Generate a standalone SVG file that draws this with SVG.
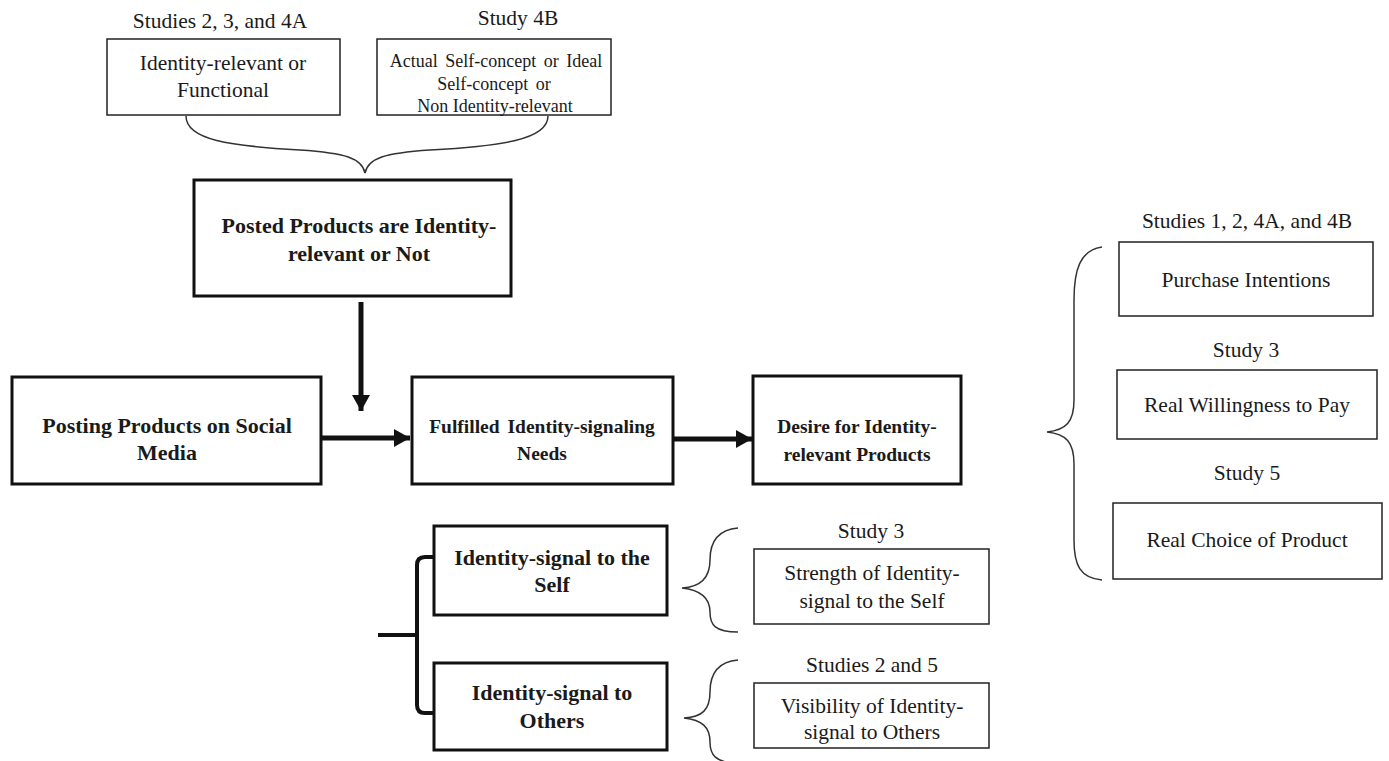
<svg xmlns="http://www.w3.org/2000/svg" width="1389" height="761" viewBox="0 0 1389 761">
<style>
text{font-family:"Liberation Serif","Times New Roman",serif;fill:#1a1a1a;text-anchor:middle}
.t{font-size:21.5px}
.s{font-size:18px}
.b{font-size:22px;font-weight:bold}
.b19{font-size:19.5px;font-weight:bold}
.thin{fill:#fff;stroke:#222;stroke-width:1.5}
.bold{fill:#fff;stroke:#111;stroke-width:3}
.brace{fill:none;stroke:#333;stroke-width:1.5}
.arr{stroke:#111;stroke-width:5;fill:none}
</style>
<defs>
<marker id="ah" markerUnits="userSpaceOnUse" markerWidth="18" markerHeight="20" refX="16" refY="9" orient="auto">
<path d="M0,0 L16,9 L0,18 Z" fill="#111"/>
</marker>
</defs>
<rect width="1389" height="761" fill="#fff"/>

<g id="top-left">
<text class="t" x="220" y="28">Studies 2, 3, and 4A</text>
<rect class="thin" x="107" y="39" width="233" height="76"/>
<text class="t" x="223" y="70">Identity-relevant or</text>
<text class="t" x="223" y="97">Functional</text>
</g>
<g id="top-right">
<text class="t" x="518" y="25">Study 4B</text>
<rect class="thin" x="377" y="39" width="234" height="76"/>
<text class="s" x="496" y="67" word-spacing="3">Actual Self-concept or Ideal</text>
<text class="s" x="494" y="90" word-spacing="3">Self-concept or</text>
<text class="s" x="495" y="112">Non Identity-relevant</text>
</g>
<g id="posted">
<rect class="bold" x="194" y="180" width="317" height="116"/>
<text class="b" x="359" y="233">Posted Products are Identity-</text>
<text class="b" x="359" y="261">relevant or Not</text>
</g>
<g id="posting">
<rect class="bold" x="12" y="377" width="309" height="107"/>
<text class="b" x="167" y="433">Posting Products on Social</text>
<text class="b" x="167" y="460">Media</text>
</g>
<g id="fulfilled">
<rect class="bold" x="412" y="377" width="261" height="107"/>
<text class="b19" x="542" y="433" word-spacing="3">Fulfilled Identity-signaling</text>
<text class="b19" x="542" y="460">Needs</text>
</g>
<g id="desire">
<rect class="bold" x="753" y="376" width="208" height="108"/>
<text class="b19" x="857" y="433">Desire for Identity-</text>
<text class="b19" x="857" y="461">relevant Products</text>
</g>
<g id="purchase">
<text class="t" x="1247" y="228">Studies 1, 2, 4A, and 4B</text>
<rect class="thin" x="1119" y="242" width="254" height="74"/>
<text class="t" x="1246" y="287">Purchase Intentions</text>
</g>
<g id="wtp">
<text class="t" x="1246" y="357">Study 3</text>
<rect class="thin" x="1117" y="370" width="260" height="69"/>
<text class="t" x="1247" y="412">Real Willingness to Pay</text>
</g>
<g id="choice">
<text class="t" x="1247" y="480">Study 5</text>
<rect class="thin" x="1113" y="503" width="269" height="76"/>
<text class="t" x="1247" y="547">Real Choice of Product</text>
</g>
<g id="signal-self">
<rect class="bold" x="434" y="526" width="233" height="89"/>
<text class="b" x="552" y="565">Identity-signal to the</text>
<text class="b" x="552" y="592">Self</text>
</g>
<g id="signal-others">
<rect class="bold" x="434" y="663" width="233" height="87"/>
<text class="b" x="552" y="700">Identity-signal to</text>
<text class="b" x="552" y="728">Others</text>
</g>
<g id="strength">
<text class="t" x="871" y="538">Study 3</text>
<rect class="thin" x="754" y="549" width="235" height="75"/>
<text class="t" x="872" y="580">Strength of Identity-</text>
<text class="t" x="872" y="608">signal to the Self</text>
</g>
<g id="visibility">
<text class="t" x="872" y="672">Studies 2 and 5</text>
<rect class="thin" x="754" y="683" width="235" height="65"/>
<text class="t" x="872" y="713">Visibility of Identity-</text>
<text class="t" x="872" y="739">signal to Others</text>
</g>

<g id="connectors">
<path class="brace" d="M186,116 C186,140 230,146 300,150 C345,153 362,158 365,173 C368,158 385,153 430,150 C500,146 548,140 548,116"/>
<path class="brace" d="M1102,247 C1080,250 1074,270 1074,300 L1074,400 C1074,422 1066,430 1047,432 C1066,434 1074,442 1074,464 L1074,540 C1074,565 1080,578 1102,580"/>
<path class="brace" d="M738,528 C715,530 710,545 710,560 C710,578 700,587 682,588 C700,590 710,598 710,612 C710,625 715,632 738,632"/>
<path class="brace" d="M738,660 C715,662 710,677 710,692 C710,710 702,717 684,718 C702,720 710,727 710,742 C710,755 715,762 738,764"/>
<line class="arr" x1="361" y1="302" x2="361" y2="411" marker-end="url(#ah)"/>
<line class="arr" x1="321" y1="438" x2="410" y2="438" marker-end="url(#ah)"/>
<line class="arr" x1="673" y1="439" x2="752" y2="439" marker-end="url(#ah)"/>
<path d="M434,557 L425,557 Q417,557 417,565 L417,705 Q417,713 425,713 L434,713" fill="none" stroke="#111" stroke-width="4"/>
<line x1="378" y1="635" x2="417" y2="635" stroke="#111" stroke-width="4"/>
</g>
</svg>
